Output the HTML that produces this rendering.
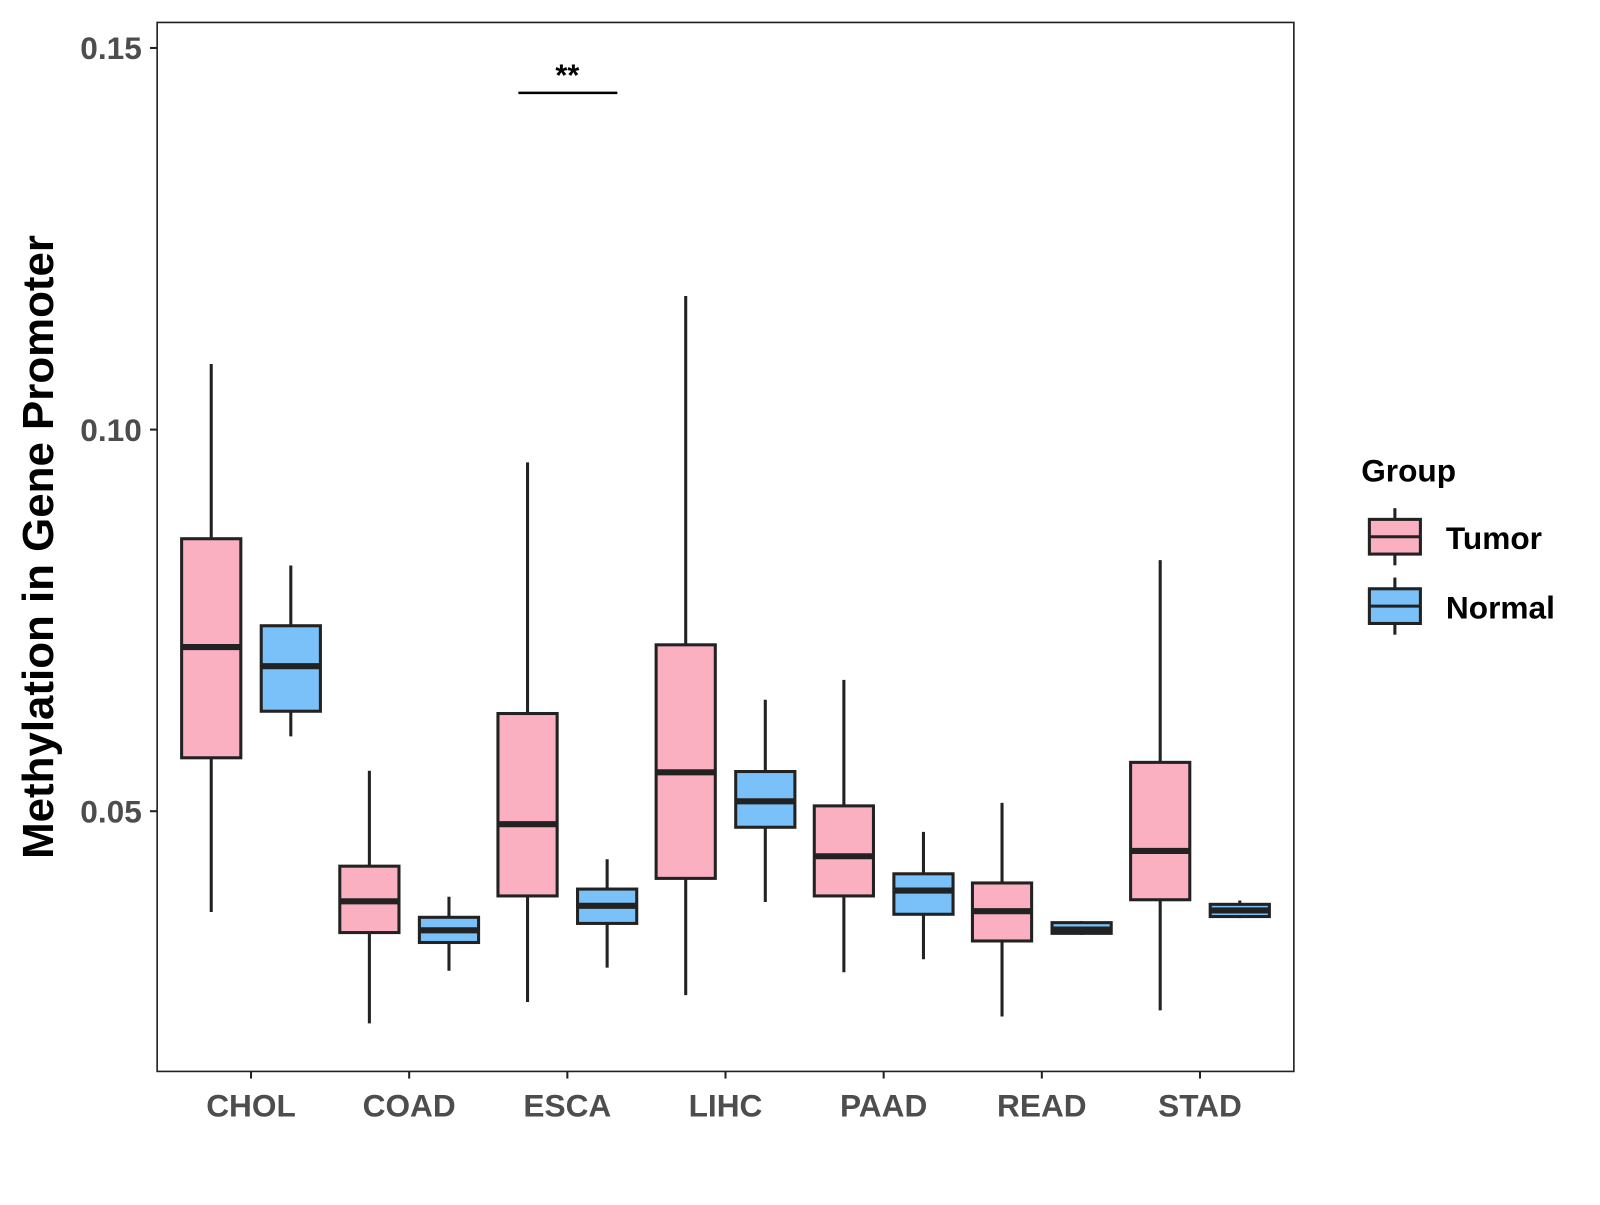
<!DOCTYPE html>
<html><head><meta charset="utf-8"><style>
body{margin:0;background:#fff;}
svg text{font-family:"Liberation Sans",Arial,sans-serif;font-weight:bold;}
</style></head><body>
<svg id="chart" width="1600" height="1200" viewBox="0 0 1600 1200" xmlns="http://www.w3.org/2000/svg">
<g transform="scale(1.0204)">
<rect x="154" y="22" width="1114" height="1028" fill="#fff" stroke="#222" stroke-width="1.6"/>
<g id="marks"></g>
<g id="axes"></g>
<text x="52" y="536" font-size="43" fill="#000" text-anchor="middle" transform="rotate(-90 52 536)">Methylation in Gene Promoter</text>
<g>
<line x1="508" y1="91" x2="605" y2="91" stroke="#000" stroke-width="2.5"/>
<text x="556" y="84" font-size="30" text-anchor="middle" fill="#000">**</text>
</g>
<g>
<text x="1334" y="472" font-size="31" fill="#000">Group</text>
<g>
<line x1="1367" y1="498" x2="1367" y2="554" stroke="#222" stroke-width="3"/>
<rect x="1342" y="509" width="50" height="34" fill="#fbb0c2" stroke="#222" stroke-width="3"/>
<line x1="1342" y1="526" x2="1392" y2="526" stroke="#222" stroke-width="3"/>
<text x="1417" y="538" font-size="31" fill="#000">Tumor</text>
</g>
<g>
<line x1="1367" y1="566" x2="1367" y2="622" stroke="#222" stroke-width="3"/>
<rect x="1342" y="577" width="50" height="34" fill="#79c1f8" stroke="#222" stroke-width="3"/>
<line x1="1342" y1="594" x2="1392" y2="594" stroke="#222" stroke-width="3"/>
<text x="1417" y="606" font-size="31" fill="#000">Normal</text>
</g>
</g>
</g>
</svg>
<script>
const categories=["CHOL","COAD","ESCA","LIHC","PAAD","READ","STAD"];
const tumorStats=[[0.0368,0.0570,0.0715,0.0857,0.1086],[0.0222,0.0341,0.0382,0.0428,0.0553],[0.0250,0.0389,0.0483,0.0628,0.0957],[0.0259,0.0412,0.0551,0.0718,0.1175],[0.0289,0.0389,0.0441,0.0507,0.0672],[0.0231,0.0330,0.0369,0.0406,0.0511],[0.0239,0.0384,0.0448,0.0564,0.0829]];
const normalStats=[[0.0598,0.0631,0.0690,0.0743,0.0822],[0.0291,0.0328,0.0344,0.0361,0.0388],[0.0295,0.0353,0.0376,0.0398,0.0437],[0.0381,0.0479,0.0513,0.0552,0.0646],[0.0306,0.0365,0.0396,0.0418,0.0473],[0.0338,0.0340,0.0345,0.0354,0.0356],[0.0360,0.0362,0.0370,0.0378,0.0383]];
const yTicks=[0.05,0.10,0.15];
const yTickLabels=["0.05","0.10","0.15"];
const NS="http://www.w3.org/2000/svg";
function yScale(v){return 47+(0.15-v)*7480;}
function xScale(i){return 246+i*155;}
function mk(tag,attrs,parent){const e=document.createElementNS(NS,tag);for(const k in attrs)e.setAttribute(k,attrs[k]);parent.appendChild(e);return e;}
const marks=document.getElementById("marks"),axes=document.getElementById("axes");
function drawBox(cx,s,fill,name){
  const g=mk("g",{},marks);
  
  
  const w=58,st={stroke:"#222","stroke-width":3};
  mk("line",Object.assign({x1:cx,x2:cx,y1:yScale(s[4]),y2:yScale(s[0])},st),g);
  mk("rect",Object.assign({x:cx-w/2,y:yScale(s[3]),width:w,height:Math.max(1,yScale(s[1])-yScale(s[3])),fill:fill},st),g);
  mk("line",{x1:cx-w/2,x2:cx+w/2,y1:yScale(s[2]),y2:yScale(s[2]),stroke:"#222","stroke-width":6},g);
}
categories.forEach((c,i)=>{
  drawBox(xScale(i)-39,tumorStats[i],"#fbb0c2","box-tumor-"+c.toLowerCase());
  drawBox(xScale(i)+39,normalStats[i],"#79c1f8","box-normal-"+c.toLowerCase());
  mk("line",{x1:xScale(i),x2:xScale(i),y1:1050,y2:1057,stroke:"#222","stroke-width":2},axes);
  const t=mk("text",{x:xScale(i),y:1094,"font-size":31,fill:"#4d4d4d","text-anchor":"middle"},axes);
  t.textContent=c;
  
  
});
yTicks.forEach((v,i)=>{
  mk("line",{x1:147,x2:154,y1:yScale(v),y2:yScale(v),stroke:"#222","stroke-width":2},axes);
  const t=mk("text",{x:139,y:yScale(v)+11,"font-size":31,fill:"#4d4d4d","text-anchor":"end"},axes);
  t.textContent=yTickLabels[i];
  
  
});
</script>
</body></html>
